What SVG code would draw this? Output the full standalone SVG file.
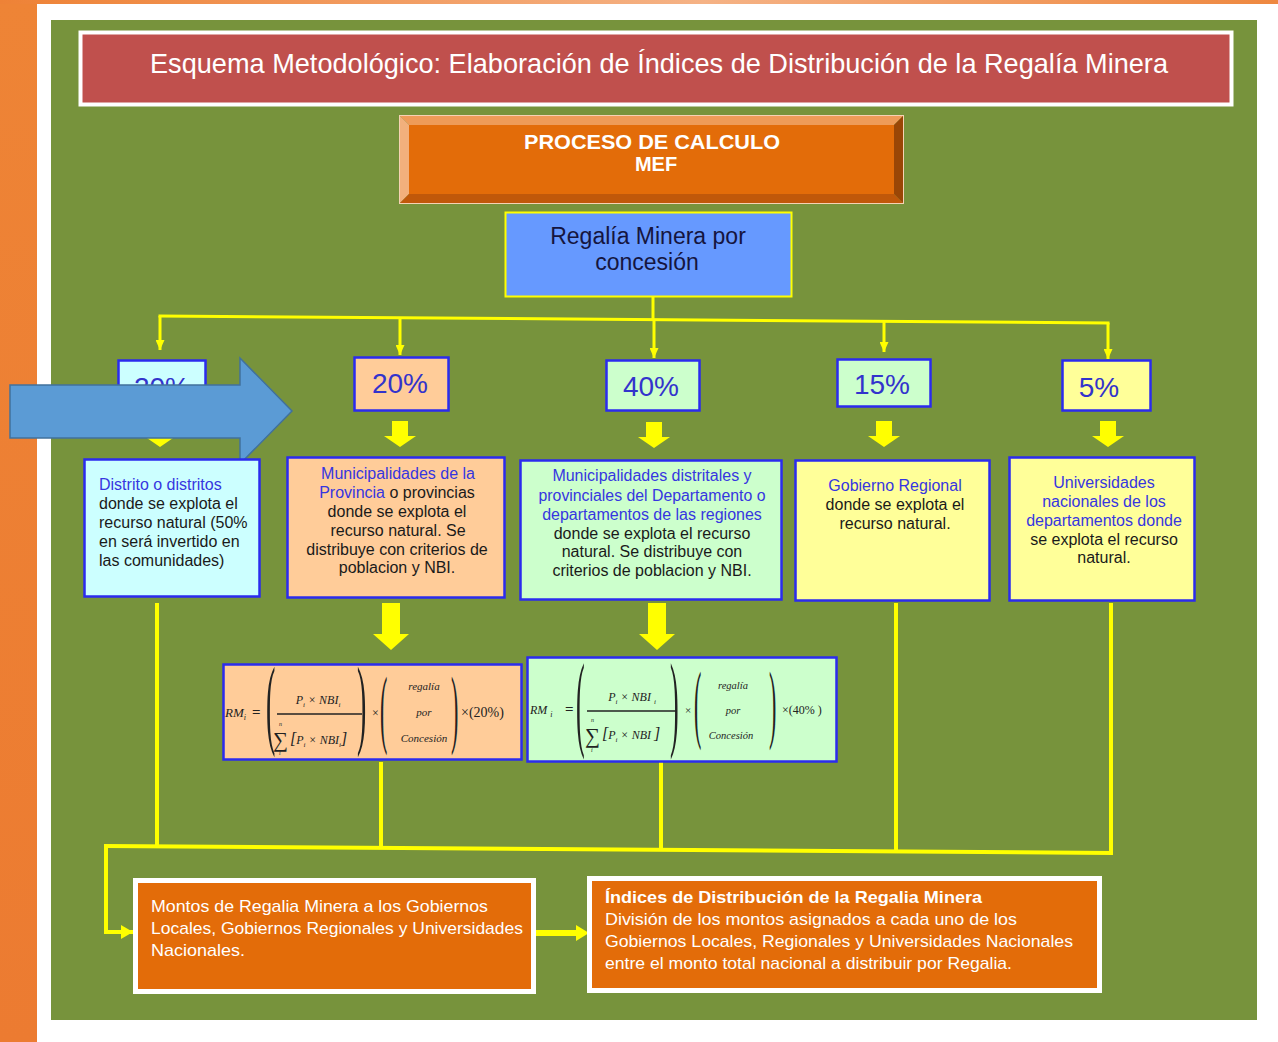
<svg xmlns="http://www.w3.org/2000/svg" width="1278" height="1042" viewBox="0 0 1278 1042">
<defs>
  <linearGradient id="gLeft" x1="0" y1="0" x2="0" y2="1">
    <stop offset="0" stop-color="#EE8436"/>
    <stop offset="1" stop-color="#EC7B31"/>
  </linearGradient>
  <linearGradient id="gTop" x1="0" y1="0" x2="1" y2="0">
    <stop offset="0" stop-color="#EE8236"/>
    <stop offset="0.55" stop-color="#F5B285"/>
    <stop offset="1" stop-color="#EE8840"/>
  </linearGradient>
  <marker id="ah" markerWidth="10" markerHeight="9" refX="10" refY="4.5" orient="auto" markerUnits="userSpaceOnUse">
    <path d="M0,0 L10,4.5 L0,9 z" fill="#FFFF00"/>
  </marker>
  <marker id="ah2" markerWidth="12" markerHeight="14" refX="12" refY="7" orient="auto" markerUnits="userSpaceOnUse">
    <path d="M0,0 L12,7 L0,14 z" fill="#FFFF00"/>
  </marker>
</defs>
<style>
  .t { font-family: "Liberation Sans", Arial, sans-serif; }
  .desc { font-family: "Liberation Sans", Arial, sans-serif; font-size: 16px; fill: #1a1a1a; }
  .blue { fill: #3636E0; }
  .pct { font-family: "Liberation Sans", Arial, sans-serif; font-size: 28px; fill: #3333CC; text-anchor: middle; }
  .bx { stroke: #2B2BEE; stroke-width: 2.5; }
  .wt { font-family: "Liberation Sans", Arial, sans-serif; font-size: 17px; fill: #FFFFFF; }
  .fm { font-family: "Liberation Serif", "Times New Roman", serif; font-style: italic; fill: #222222; }
  .fn { font-family: "Liberation Serif", "Times New Roman", serif; fill: #222222; }
  .ln { stroke: #FFFF00; fill: none; }
  .ya { fill: #FFFF00; }
</style>

<!-- background -->
<rect x="0" y="0" width="1278" height="1042" fill="#FFFFFF"/>
<rect x="0" y="0" width="37" height="1042" fill="url(#gLeft)"/>
<rect x="0" y="0" width="1278" height="4" fill="url(#gTop)"/>
<rect x="51" y="20" width="1206" height="1000" fill="#77933C"/>

<!-- title -->
<g id="title">
  <rect x="80.5" y="32.5" width="1151" height="72" fill="#C0504D" stroke="#FFFFFF" stroke-width="4"/>
  <text class="t" x="150" y="73" font-size="28" fill="#FFFFFF" textLength="1018" lengthAdjust="spacingAndGlyphs">Esquema Metodológico: Elaboración de Índices de Distribución de la Regalía Minera</text>
</g>

<!-- proceso -->
<g id="proceso">
  <polygon points="399,115 904,115 894,125 409,125" fill="#EE9B58"/>
  <polygon points="399,115 409,125 409,194 399,204" fill="#F2B07C"/>
  <polygon points="904,115 904,204 894,194 894,125" fill="#9A4606"/>
  <polygon points="399,204 409,194 894,194 904,204" fill="#C0580A"/>
  <rect x="409" y="125" width="485" height="69" fill="#E36C09"/>
  <rect x="399.5" y="115.5" width="504" height="88" fill="none" stroke="#F6D2B4" stroke-width="1"/>
  <text class="t" x="652" y="149" font-size="20" font-weight="bold" fill="#FFFFFF" text-anchor="middle" textLength="256" lengthAdjust="spacingAndGlyphs">PROCESO DE CALCULO</text>
  <text class="t" x="656" y="171" font-size="20" font-weight="bold" fill="#FFFFFF" text-anchor="middle">MEF</text>
</g>

<!-- regalia -->
<g id="regalia">
  <rect x="505.5" y="212.5" width="286" height="84" fill="#6699FF" stroke="#FFFF00" stroke-width="2"/>
  <text class="t" x="648" y="244" font-size="23" fill="#151540" text-anchor="middle">Regalía Minera por</text>
  <text class="t" x="647" y="270" font-size="23" fill="#151540" text-anchor="middle">concesión</text>
</g>

<!-- connectors -->
<g id="connectors">
  <line class="ln" x1="653" y1="297" x2="653" y2="319" stroke-width="3"/>
  <line class="ln" x1="158.5" y1="316" x2="1109.5" y2="323" stroke-width="3"/>
  <line class="ln" x1="160" y1="316" x2="160" y2="350" stroke-width="3" marker-end="url(#ah)"/>
  <line class="ln" x1="400" y1="318" x2="400" y2="355" stroke-width="3" marker-end="url(#ah)"/>
  <line class="ln" x1="654" y1="319" x2="654" y2="358" stroke-width="3" marker-end="url(#ah)"/>
  <line class="ln" x1="884" y1="321" x2="884" y2="352" stroke-width="3" marker-end="url(#ah)"/>
  <line class="ln" x1="1108" y1="323" x2="1108" y2="359" stroke-width="3" marker-end="url(#ah)"/>

  <!-- small block arrows -->
  <polygon class="ya" points="152,421 168,421 168,436 176,436 160,447 144,436 152,436"/>
  <polygon class="ya" points="392,421 408,421 408,436 416,436 400,447 384,436 392,436"/>
  <polygon class="ya" points="646,422 662,422 662,437 670,437 654,448 638,437 646,437"/>
  <polygon class="ya" points="876,421 892,421 892,436 900,436 884,447 868,436 876,436"/>
  <polygon class="ya" points="1100,421 1116,421 1116,436 1124,436 1108,447 1092,436 1100,436"/>

  <!-- big block arrows to formulas -->
  <polygon class="ya" points="382,603 400,603 400,634 409,634 391,650 373,634 382,634"/>
  <polygon class="ya" points="648,603 666,603 666,634 675,634 657,650 639,634 648,634"/>

  <!-- lines to bottom -->
  <line class="ln" x1="157" y1="603" x2="157" y2="846" stroke-width="4"/>
  <line class="ln" x1="381" y1="762" x2="381" y2="848" stroke-width="4"/>
  <line class="ln" x1="661" y1="762" x2="661" y2="849" stroke-width="4"/>
  <line class="ln" x1="896" y1="603" x2="896" y2="851" stroke-width="4"/>
  <line class="ln" x1="1111" y1="603" x2="1111" y2="853" stroke-width="4"/>
  <line class="ln" x1="104" y1="846" x2="1113" y2="853" stroke-width="4"/>
  <polyline class="ln" points="106,846 106,932 133,932" stroke-width="4" marker-end="url(#ah2)"/>
  <polygon class="ya" points="536,930 576,930 576,925 589,933 576,941 576,936 536,936"/>
</g>

<!-- percentage boxes -->
<g id="pct-distrito">
  <rect x="118.5" y="360.5" width="87" height="52" fill="#CCFFFF" class="bx"/>
  <text class="pct" x="162" y="397">20%</text>
</g>
<g id="pct-provincia">
  <rect x="354.5" y="357.5" width="94" height="53" fill="#FFCC99" class="bx"/>
  <text class="pct" x="400" y="393">20%</text>
</g>
<g id="pct-departamento">
  <rect x="606.5" y="360.5" width="93" height="50" fill="#CCFFCC" class="bx"/>
  <text class="pct" x="651" y="396">40%</text>
</g>
<g id="pct-regional">
  <rect x="837.5" y="359.5" width="93" height="47" fill="#CCFFCC" class="bx"/>
  <text class="pct" x="882" y="394">15%</text>
</g>
<g id="pct-universidades">
  <rect x="1062.5" y="360.5" width="88" height="50" fill="#FFFF99" class="bx"/>
  <text class="pct" x="1099" y="397">5%</text>
</g>

<!-- big callout arrow -->
<g id="callout-arrow">
  <polygon points="10,385 240,385 240,358 292,411 240,464 240,438 10,438" fill="#5B9BD5" stroke="#41719C" stroke-width="1.5"/>
</g>

<!-- description boxes -->
<g id="desc-distrito">
  <rect x="84.5" y="459.5" width="175" height="137" fill="#CCFFFF" class="bx"/>
  <text class="desc" x="99" y="490"><tspan class="blue">Distrito o distritos</tspan></text>
  <text class="desc" x="99" y="509">donde se explota el</text>
  <text class="desc" x="99" y="528">recurso natural (50%</text>
  <text class="desc" x="99" y="547">en será invertido en</text>
  <text class="desc" x="99" y="566">las comunidades)</text>
</g>
<g id="desc-provincia" text-anchor="middle">
  <rect x="287.5" y="457.5" width="217" height="140" fill="#FFCC99" class="bx"/>
  <text class="desc blue" x="398" y="479">Municipalidades de la</text>
  <text class="desc" x="397" y="498"><tspan class="blue">Provincia</tspan> o provincias</text>
  <text class="desc" x="397" y="517">donde se explota el</text>
  <text class="desc" x="398" y="536">recurso natural. Se</text>
  <text class="desc" x="397" y="555">distribuye con criterios de</text>
  <text class="desc" x="397" y="573">poblacion y NBI.</text>
</g>
<g id="desc-departamento" text-anchor="middle">
  <rect x="520.5" y="460.5" width="261" height="139" fill="#CCFFCC" class="bx"/>
  <text class="desc blue" x="652" y="481">Municipalidades distritales y</text>
  <text class="desc blue" x="652" y="501" textLength="227" lengthAdjust="spacingAndGlyphs">provinciales del Departamento o</text>
  <text class="desc blue" x="652" y="520">departamentos de las regiones</text>
  <text class="desc" x="652" y="539">donde se explota el recurso</text>
  <text class="desc" x="652" y="557">natural. Se distribuye con</text>
  <text class="desc" x="652" y="576">criterios de poblacion y NBI.</text>
</g>
<g id="desc-regional" text-anchor="middle">
  <rect x="795.5" y="460.5" width="194" height="140" fill="#FFFF99" class="bx"/>
  <text class="desc blue" x="895" y="491">Gobierno Regional</text>
  <text class="desc" x="895" y="510">donde se explota el</text>
  <text class="desc" x="895" y="529">recurso natural.</text>
</g>
<g id="desc-universidades" text-anchor="middle">
  <rect x="1009.5" y="457.5" width="185" height="143" fill="#FFFF99" class="bx"/>
  <text class="desc blue" x="1104" y="488">Universidades</text>
  <text class="desc blue" x="1104" y="507">nacionales de los</text>
  <text class="desc blue" x="1104" y="526">departamentos donde</text>
  <text class="desc" x="1104" y="545">se explota el recurso</text>
  <text class="desc" x="1104" y="563">natural.</text>
</g>

<!-- formula 20% -->
<g id="formula-provincia">
  <rect x="223.5" y="664.5" width="298" height="95" fill="#FFCC99" class="bx"/>
  <text class="fm" x="225" y="717" font-size="13">RM<tspan font-size="8" dy="3">i</tspan></text>
  <text class="fn" x="252" y="717" font-size="15" font-weight="bold">=</text>
  <text class="fn" font-size="100" transform="translate(266,736) scale(0.28,1)">(</text>
  <text class="fn" font-size="100" transform="translate(357,736) scale(0.28,1)">)</text>
  <text class="fm" x="318" y="704" font-size="12" text-anchor="middle">P<tspan font-size="7" dy="3">i</tspan><tspan dy="-3"> × NBI</tspan><tspan font-size="7" dy="3">i</tspan></text>
  <line x1="277" y1="714" x2="362" y2="714" stroke="#222222" stroke-width="1.5"/>
  <text class="fn" x="273" y="747" font-size="21">∑</text>
  <text class="fm" x="279" y="726" font-size="6">n</text>
  <text class="fm" x="279" y="755" font-size="6">i</text>
  <text class="fm" x="290" y="744" font-size="12"><tspan class="fn" font-size="16">[</tspan>P<tspan font-size="7" dy="3">i</tspan><tspan dy="-3"> × NBI</tspan><tspan font-size="7" dy="3">i</tspan><tspan class="fn" font-size="16" dy="-3">]</tspan></text>
  <text class="fn" x="372" y="717" font-size="12">×</text>
  <text class="fn" font-size="100" transform="translate(380,736.5) scale(0.22,0.857)">(</text>
  <text class="fn" font-size="100" transform="translate(451,736.5) scale(0.22,0.857)">)</text>
  <text class="fm" x="424" y="690" font-size="11" text-anchor="middle">regalía</text>
  <text class="fm" x="424" y="716" font-size="11" text-anchor="middle">por</text>
  <text class="fm" x="424" y="742" font-size="11" text-anchor="middle">Concesión</text>
  <text class="fn" x="461" y="717" font-size="14">×(20%)</text>
</g>

<!-- formula 40% -->
<g id="formula-departamento">
  <rect x="527.5" y="657.5" width="309" height="104" fill="#CCFFCC" class="bx"/>
  <text class="fm" x="530" y="714" font-size="12">RM <tspan font-size="8" dy="3">i</tspan></text>
  <text class="fn" x="565" y="714" font-size="15" font-weight="bold">=</text>
  <text class="fn" font-size="100" transform="translate(576,737) scale(0.26,1.066)">(</text>
  <text class="fn" font-size="100" transform="translate(670,737) scale(0.26,1.066)">)</text>
  <text class="fm" x="632" y="701" font-size="12" text-anchor="middle">P<tspan font-size="7" dy="3">i</tspan><tspan dy="-3"> × NBI </tspan><tspan font-size="7" dy="3">i</tspan></text>
  <line x1="587" y1="711" x2="676" y2="711" stroke="#222222" stroke-width="1.5"/>
  <text class="fn" x="585" y="743" font-size="21">∑</text>
  <text class="fm" x="591" y="722" font-size="6">n</text>
  <text class="fm" x="591" y="752" font-size="6">i</text>
  <text class="fm" x="602" y="739" font-size="12"><tspan class="fn" font-size="16">[</tspan>P<tspan font-size="7" dy="3">i</tspan><tspan dy="-3"> × NBI </tspan><tspan class="fn" font-size="16">]</tspan></text>
  <text class="fn" x="685" y="714" font-size="11">×</text>
  <text class="fn" font-size="100" transform="translate(694,731.5) scale(0.22,0.857)">(</text>
  <text class="fn" font-size="100" transform="translate(769,731.5) scale(0.22,0.857)">)</text>
  <text class="fm" x="733" y="689" font-size="10.5" text-anchor="middle">regalía</text>
  <text class="fm" x="733" y="714" font-size="10.5" text-anchor="middle">por</text>
  <text class="fm" x="731" y="739" font-size="10.5" text-anchor="middle">Concesión</text>
  <text class="fn" x="782" y="714" font-size="12">×(40% )</text>
</g>

<!-- bottom boxes -->
<g id="montos">
  <rect x="135.5" y="880.5" width="398" height="111" fill="#E36C09" stroke="#FFFFFF" stroke-width="5"/>
  <text class="wt" x="151" y="912" textLength="337" lengthAdjust="spacingAndGlyphs">Montos de Regalia Minera a los Gobiernos</text>
  <text class="wt" x="151" y="934" textLength="372" lengthAdjust="spacingAndGlyphs">Locales, Gobiernos Regionales y Universidades</text>
  <text class="wt" x="151" y="956" textLength="94" lengthAdjust="spacingAndGlyphs">Nacionales.</text>
</g>
<g id="indices">
  <rect x="589.5" y="878.5" width="510" height="112" fill="#E36C09" stroke="#FFFFFF" stroke-width="5"/>
  <text class="wt" x="605" y="903" font-weight="bold" textLength="377" lengthAdjust="spacingAndGlyphs">Índices de Distribución de la Regalia Minera</text>
  <text class="wt" x="605" y="925" textLength="412" lengthAdjust="spacingAndGlyphs">División de los montos asignados a cada uno de los</text>
  <text class="wt" x="605" y="947" textLength="468" lengthAdjust="spacingAndGlyphs">Gobiernos Locales, Regionales y Universidades Nacionales</text>
  <text class="wt" x="605" y="969" textLength="407" lengthAdjust="spacingAndGlyphs">entre el monto total nacional a distribuir por Regalia.</text>
</g>
</svg>
